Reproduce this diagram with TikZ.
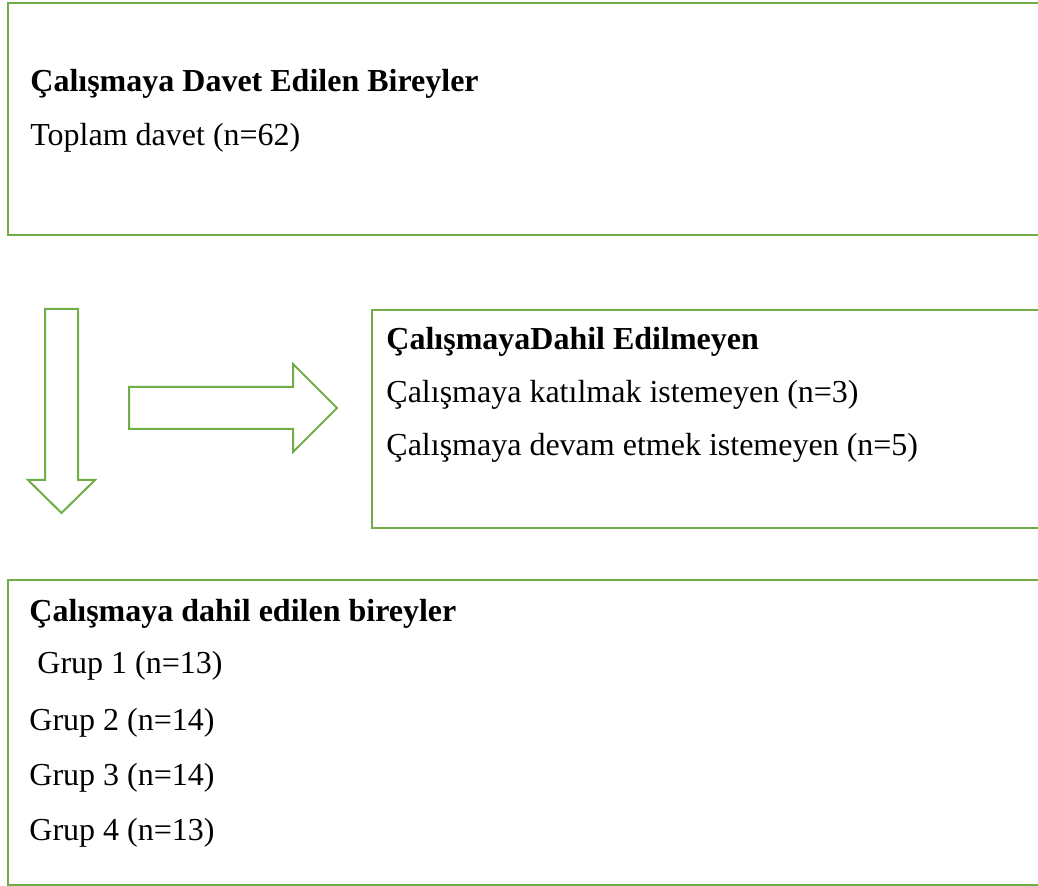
\documentclass[tikz,border=0pt]{standalone}
\usepackage{fontspec}
\setmainfont{Liberation Serif}
\usepackage{xcolor}
\definecolor{boxgreen}{RGB}{112,173,71}

\begin{document}
\begin{tikzpicture}[x=0.5pt,y=-0.5pt,
  box/.style={draw=boxgreen,line width=1.2pt},
  blockarrow/.style={draw=boxgreen,line width=1pt,line join=miter},
  txt/.style={anchor=base west,inner sep=0pt,font=\fontsize{16}{19}\selectfont}]

\useasboundingbox (0,0) rectangle (1038,886);
\clip (0,0) rectangle (1038,886);

% Invited box
\draw[box] (8,3) rectangle (1060,235);
\node[txt] (davet) at (30,92) {\bfseries Çalışmaya Davet Edilen Bireyler};
\node[txt] (toplam) at (30,146) {Toplam davet (n=62)};

% Excluded box
\draw[box] (372,310) rectangle (1060,528);
\node[txt] (haric) at (386,350) {\bfseries ÇalışmayaDahil Edilmeyen};
\node[txt] (katil) at (386,403) {Çalışmaya katılmak istemeyen (n=3)};
\node[txt] (devam) at (386,456) {Çalışmaya devam etmek istemeyen (n=5)};

% Included box
\draw[box] (8,580) rectangle (1060,885);
\node[txt] (dahil) at (29,622) {\bfseries Çalışmaya dahil edilen bireyler};
\node[txt] (grup1) at (29,674) {\ Grup 1 (n=13)};
\node[txt] (grup2) at (29,730) {Grup 2 (n=14)};
\node[txt] (grup3) at (29,785) {Grup 3 (n=14)};
\node[txt] (grup4) at (29,840) {Grup 4 (n=13)};

% Block arrows
\draw[blockarrow] (45,309) -- (78,309) -- (78,480) -- (95,480)
  -- (61.5,513) -- (28,480) -- (45,480) -- cycle; % down
\draw[blockarrow] (129,387) -- (293,387) -- (293,364) -- (337,408)
  -- (293,452) -- (293,429) -- (129,429) -- cycle; % right

\end{tikzpicture}
\end{document}
